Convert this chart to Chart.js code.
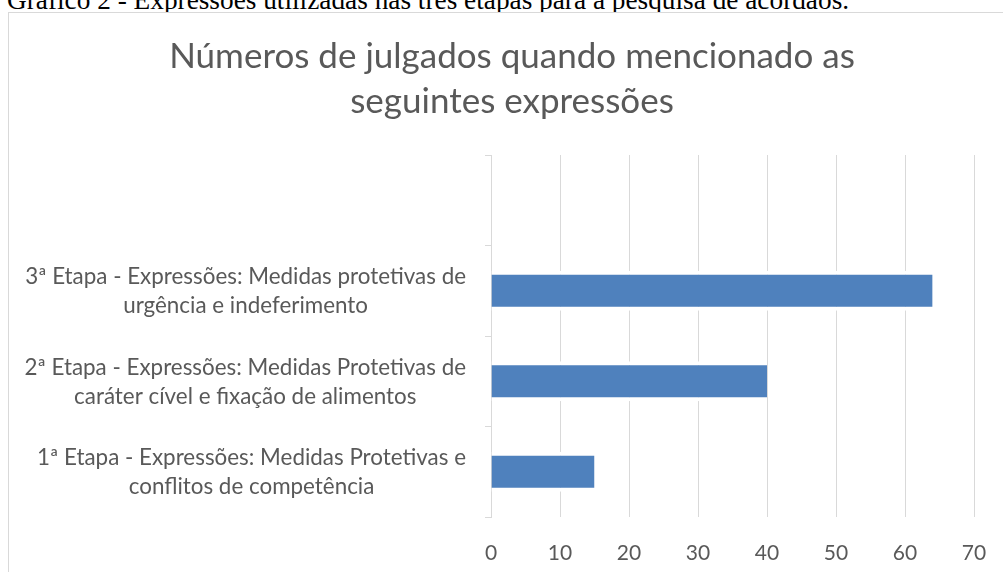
<!DOCTYPE html>
<html>
<head>
<meta charset="utf-8">
<script src="https://cdn.jsdelivr.net/npm/chart.js@4.4.1/dist/chart.umd.min.js"></script>
<style>
  html, body { margin: 0; padding: 0; background: #fff; overflow: hidden; width: 1003px; height: 572px; }
  #caption {
    position: absolute; left: 7px; top: -13px;
    font-family: "Liberation Serif", "Times New Roman", serif;
    font-size: 27.3px; line-height: 1; color: #000; white-space: nowrap;
  }
  #frame {
    position: absolute; left: 8px; top: 12px;
    width: 1100px; height: 700px;
    border: 1px solid #d9d9d9; background: #fff;
  }
  #julgadosChart { position: absolute; left: 0; top: 0; width: 1006px; height: 559px; }
</style>
</head>
<body>
<div id="caption">Gráfico 2 - Expressões utilizadas nas três etapas para a pesquisa de acórdãos.</div>
<div id="frame">
  <canvas id="julgadosChart" width="1006" height="559"></canvas>
</div>
<script>
// Chart data
const titleLines = ['Números de julgados quando mencionado as', 'seguintes expressões'];
const categories = [
  ['1ª Etapa - Expressões: Medidas Protetivas e', 'conflitos de competência'],
  ['2ª Etapa - Expressões: Medidas Protetivas de', 'caráter cível e fixação de alimentos'],
  ['3ª Etapa - Expressões: Medidas protetivas de', 'urgência e indeferimento'],
  ''
];
const julgados = [15, 40, 64, null];
const xMin = 0;
const xMax = 70;
const xStep = 10;

// Styles
const textColor = '#595959';
const gridColor = '#d9d9d9';
const barColor = '#4f81bd';
const fontFamily = 'Lato, "Open Sans", sans-serif';
const labelSize = 22.4;
const labelLineGap = 29;

// Draws the category labels: block right-aligned near the axis, lines centered inside
const categoryLabels = {
  id: 'categoryLabels',
  afterDraw(chart) {
    const ctx = chart.ctx;
    const sc = chart.scales.y;
    ctx.save();
    ctx.font = `${labelSize}px ${fontFamily}`;
    ctx.fillStyle = textColor;
    ctx.textAlign = 'center';
    ctx.textBaseline = 'middle';
    categories.forEach((lab, i) => {
      const lines = Array.isArray(lab) ? lab : [lab];
      if (!lines[0]) return;
      const w = Math.max(...lines.map(l => ctx.measureText(l).width));
      const cx = sc.right - 25 - w / 2;
      const cy = sc.getPixelForValue(i) + 1;
      lines.forEach((l, k) => {
        ctx.fillText(l, cx, cy + (k - (lines.length - 1) / 2) * labelLineGap);
      });
    });
    ctx.restore();
  }
};

const ctx = document.getElementById('julgadosChart');
new Chart(ctx, {
  type: 'bar',
  data: {
    labels: categories,
    datasets: [{
      data: julgados,
      backgroundColor: barColor,
      borderColor: '#ffffff',
      borderWidth: { top: 4, bottom: 4, left: 0, right: 0 },
      borderSkipped: false,
      barPercentage: 0.442,
      categoryPercentage: 1
    }]
  },
  plugins: [categoryLabels],
  options: {
    indexAxis: 'y',
    responsive: false,
    animation: false,
    layout: { padding: { left: 41, right: 41, top: 0, bottom: 0 } },
    plugins: {
      legend: { display: false },
      tooltip: { enabled: false },
      title: {
        display: true,
        text: titleLines,
        color: textColor,
        font: { family: fontFamily, size: 35, weight: 'normal', lineHeight: 45 / 35 },
        padding: { top: 21.5, bottom: 30.5 }
      }
    },
    scales: {
      x: {
        min: xMin,
        max: xMax,
        ticks: { stepSize: xStep, color: textColor, padding: 24, font: { family: fontFamily, size: 21 } },
        grid: { color: gridColor, drawTicks: false },
        border: { display: false },
        afterFit(scale) { scale.height = 55; }
      },
      y: {
        reverse: true,
        ticks: { display: false },
        grid: { color: gridColor, drawOnChartArea: false, drawTicks: true, tickLength: 6 },
        border: { display: true, color: gridColor },
        afterFit(scale) { scale.width = 441; }
      }
    }
  }
});
</script>
</body>
</html>
